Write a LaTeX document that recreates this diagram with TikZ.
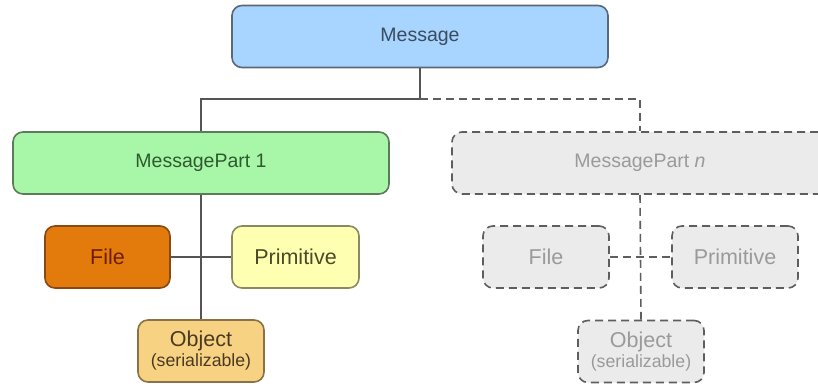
\documentclass[tikz,border=0pt]{standalone}
\usepackage{fontspec}
\setmainfont{Liberation Sans}
\begin{document}
\begin{tikzpicture}[x=1pt,y=-1pt,
  box/.style={rectangle, rounded corners=10pt, line width=1.6pt, inner sep=0pt,
    minimum height=62pt, align=center},
  wide/.style={box, minimum width=376pt},
  small/.style={box, minimum width=126pt},
  ghost/.style={fill=ghostfill, draw=ghostline, text=ghosttext, dashed box},
  dashed box/.style={dash pattern=on 8pt off 5pt},
  link/.style={draw=linkcol, line width=1.6pt},
  ghostlink/.style={draw=ghostline, line width=1.6pt, dash pattern=on 8pt off 5pt},
  big/.style={font=\fontsize{19.5}{22}\selectfont},
  mid/.style={font=\fontsize{21.5}{24}\selectfont},
  note/.style={font=\fontsize{17.7}{20}\selectfont}]
\definecolor{msgfill}{HTML}{A8D5FF}\definecolor{msgline}{HTML}{5A6878}\definecolor{msgtext}{HTML}{3A4C5E}
\definecolor{partfill}{HTML}{A8F7A8}\definecolor{partline}{HTML}{5C7A5C}\definecolor{parttext}{HTML}{2F5A2F}
\definecolor{filefill}{HTML}{E27A0C}\definecolor{fileline}{HTML}{8A4812}\definecolor{filetext}{HTML}{6E1E00}
\definecolor{primfill}{HTML}{FFFFB2}\definecolor{primline}{HTML}{8A8A62}\definecolor{primtext}{HTML}{4A4A28}
\definecolor{objfill}{HTML}{F6D282}\definecolor{objline}{HTML}{8A7246}\definecolor{objtext}{HTML}{4A3A22}
\definecolor{ghostfill}{HTML}{EBEBEB}\definecolor{ghostline}{HTML}{5E5E5E}\definecolor{ghosttext}{HTML}{9A9A9A}
\definecolor{linkcol}{HTML}{555555}

\clip (0,0) rectangle (818,385);
\fill[white] (0,0) rectangle (818,385);

% top level
\node[wide, big, fill=msgfill, draw=msgline, text=msgtext] (msg) at (420,36.5) {Message};
\coordinate (split) at (420,99);

% first part and its contents
\node[wide, big, fill=partfill, draw=partline, text=parttext] (mp1) at (201,163) {MessagePart 1};
\node[small, mid, minimum width=125pt, fill=filefill, draw=fileline, text=filetext] (file1) at (107.5,257) {File};
\node[small, mid, minimum width=127pt, fill=primfill, draw=primline, text=primtext] (prim1) at (295.5,257) {Primitive};
\node[small, mid, fill=objfill, draw=objline, text=objtext] (obj1) at (201,351)
  {Object\\[-4pt]{\fontsize{17.7}{20}\selectfont(serializable)}};

% n-th part, drawn greyed out
\node[wide, big, ghost] (mpn) at (640,163) {MessagePart \textit{n}};
\node[small, mid, ghost] (filen) at (546,257) {File};
\node[small, mid, ghost] (primn) at (735,257) {Primitive};
\node[small, mid, ghost] (objn) at (641,351.5)
  {Object\\[-4pt]{\fontsize{17.7}{20}\selectfont(serializable)}};

% connectors
\draw[link] (msg.south) -- (split) -| (mp1.north);
\draw[ghostlink] (split) -| (mpn.north);
\draw[link] (mp1.south) -- (obj1.north);
\draw[link] (file1.east) -- (prim1.west);
\draw[ghostlink] (mpn.south) -- (objn.north);
\draw[ghostlink] (filen.east) -- (primn.west);
\end{tikzpicture}
\end{document}
